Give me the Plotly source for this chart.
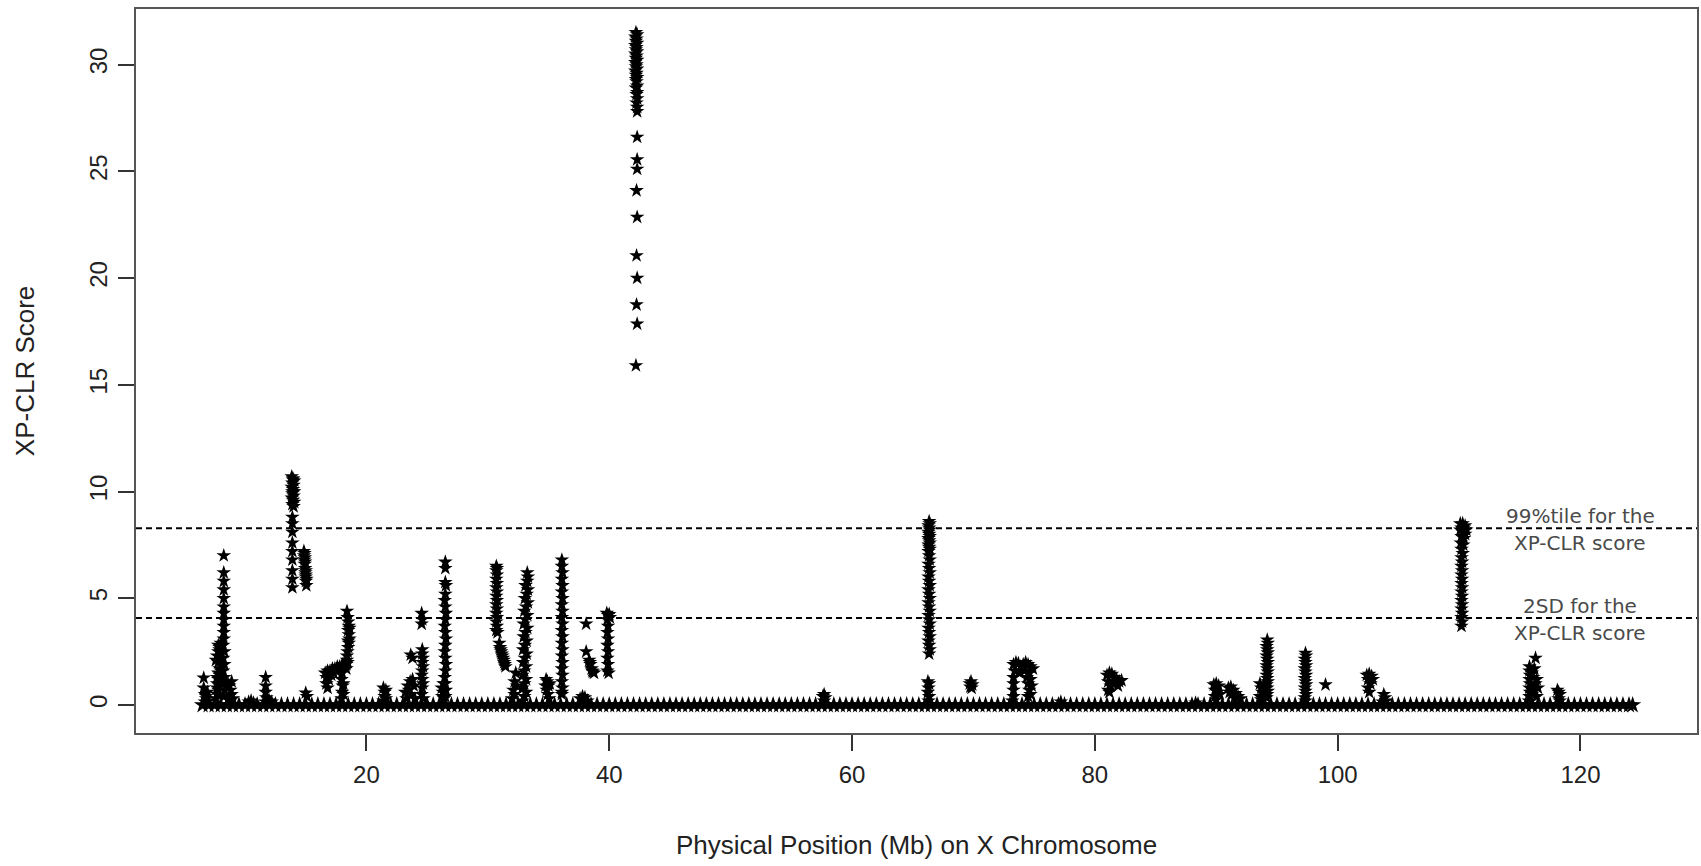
import plotly.graph_objects as go

# ---------------- data ----------------
# windows along the X chromosome (Mb) whose XP-CLR score is ~0
baseline_mb = [
    6.5, 7.0, 7.5, 8.0, 8.5, 9.0, 9.5, 10.0, 10.5, 11.0, 11.5, 12.0, 12.5, 13.0, 13.5, 14.0, 14.5, 15.0, 15.5, 16.0,
    16.5, 17.0, 17.5, 18.0, 18.5, 19.0, 19.5, 20.0, 20.5, 21.0, 21.5, 22.0, 22.5, 23.0, 23.5, 24.0, 24.5, 25.0, 25.5, 26.0,
    26.5, 27.0, 27.5, 28.0, 28.5, 29.0, 29.5, 30.0, 30.5, 31.0, 31.5, 32.0, 32.5, 33.0, 33.5, 34.0, 34.5, 35.0, 35.5, 36.0,
    36.5, 37.0, 37.5, 38.0, 38.5, 39.0, 39.5, 40.0, 40.5, 41.0, 41.5, 42.0, 42.5, 43.0, 43.5, 44.0, 44.5, 45.0, 45.5, 46.0,
    46.5, 47.0, 47.5, 48.0, 48.5, 49.0, 49.5, 50.0, 50.5, 51.0, 51.5, 52.0, 52.5, 53.0, 53.5, 54.0, 54.5, 55.0, 55.5, 56.0,
    56.5, 57.0, 57.5, 58.0, 58.5, 59.0, 59.5, 60.0, 60.5, 61.0, 61.5, 62.0, 62.5, 63.0, 63.5, 64.0, 64.5, 65.0, 65.5, 66.0,
    66.5, 67.0, 67.5, 68.0, 68.5, 69.0, 69.5, 70.0, 70.5, 71.0, 71.5, 72.0, 72.5, 73.0, 73.5, 74.0, 74.5, 75.0, 75.5, 76.0,
    76.5, 77.0, 77.5, 78.0, 78.5, 79.0, 79.5, 80.0, 80.5, 81.0, 81.5, 82.0, 82.5, 83.0, 83.5, 84.0, 84.5, 85.0, 85.5, 86.0,
    86.5, 87.0, 87.5, 88.0, 88.5, 89.0, 89.5, 90.0, 90.5, 91.0, 91.5, 92.0, 92.5, 93.0, 93.5, 94.0, 94.5, 95.0, 95.5, 96.0,
    96.5, 97.0, 97.5, 98.0, 98.5, 99.0, 99.5, 100.0, 100.5, 101.0, 101.5, 102.0, 102.5, 103.0, 103.5, 104.0, 104.5, 105.0,
    105.5, 106.0, 106.5, 107.0, 107.5, 108.0, 108.5, 109.0, 109.5, 110.0, 110.5, 111.0, 111.5, 112.0, 112.5, 113.0, 113.5,
    114.0, 114.5, 115.0, 115.5, 116.0, 116.5, 117.0, 117.5, 118.0, 118.5, 119.0, 119.5, 120.0, 120.5, 121.0, 121.5, 122.0,
    122.5, 123.0, 123.5, 124.0, 124.3,
]

# (position Mb, XP-CLR score) for windows above zero, grouped by region
peaks_06_12 = [
    (6.6, 1.27), (6.6, 0.8), (6.7, 0.5), (6.8, 0.3), (6.9, 0.6), (7.0, 0.2), (6.7, 0.15), (6.8, 0.4),
    (7.6, 0.3), (7.7, 0.5), (7.8, 0.7), (7.9, 0.9), (8.0, 1.1), (7.7, 1.3), (7.8, 1.5), (7.9, 1.7), (8.0, 1.9),
    (7.6, 2.1), (7.7, 2.3), (7.8, 2.5), (7.9, 2.7), (8.0, 2.9), (7.8, 2.8), (7.9, 2.6), (7.7, 1.0), (7.8, 1.2),
    (7.9, 1.4), (8.0, 1.6), (7.7, 0.8), (7.8, 2.0),
    (8.25, 7.0), (8.25, 6.2), (8.25, 5.8), (8.25, 5.4), (8.25, 5.0), (8.25, 4.6), (8.25, 4.3), (8.25, 4.0),
    (8.25, 3.7), (8.25, 3.4), (8.25, 3.1), (8.2, 2.8), (8.3, 2.5), (8.2, 2.2), (8.3, 1.9), (8.2, 1.6),
    (8.3, 1.3), (8.2, 1.0), (8.3, 0.7), (8.25, 0.4),
    (8.6, 1.0), (8.7, 0.9), (8.8, 0.7), (8.9, 0.5), (9.0, 0.3), (8.7, 0.4), (8.8, 0.2), (8.9, 1.1),
    (10.3, 0.15), (10.5, 0.2), (10.7, 0.1),
    (11.7, 1.3), (11.7, 0.9), (11.7, 0.6), (11.75, 0.35), (11.7, 0.15), (12.0, 0.2), (12.2, 0.15),
]

peaks_13_19 = [
    (13.85, 10.7), (13.95, 10.6), (14.05, 10.5), (13.9, 10.4), (14.0, 10.3), (13.85, 10.2), (13.95, 10.1),
    (14.05, 10.0), (13.9, 9.9), (14.0, 9.8), (13.85, 9.7), (13.95, 9.6), (14.05, 9.5), (13.9, 9.4), (14.0, 9.3),
    (13.95, 10.55), (13.9, 10.0),
    (13.9, 8.8), (13.9, 8.5), (13.9, 8.1), (13.9, 7.6), (13.9, 7.2), (13.9, 6.8), (13.9, 6.3), (13.9, 5.9), (13.9, 5.5),
    (14.85, 7.2), (14.87, 7.0), (14.9, 6.8), (14.92, 6.6), (14.95, 6.4), (14.97, 6.2), (15.0, 6.0), (15.02, 5.8),
    (15.05, 5.6), (14.9, 7.1), (14.95, 6.7), (15.0, 6.3), (15.05, 5.9), (14.93, 6.9), (15.0, 6.1),
    (15.0, 0.57), (15.1, 0.4),
    (16.6, 1.5), (16.7, 1.3), (16.8, 1.6), (16.9, 1.2), (16.7, 1.0), (16.8, 0.8), (17.0, 1.6), (17.2, 1.7),
    (17.4, 1.7), (17.6, 1.8), (17.8, 1.8), (18.0, 1.9), (17.1, 1.4), (17.3, 1.5), (17.5, 1.6),
    (17.95, 0.3), (18.0, 0.6), (18.05, 0.9), (17.95, 1.2), (18.0, 1.5), (18.1, 1.0), (18.1, 0.5),
    (18.4, 4.4), (18.45, 4.1), (18.5, 3.9), (18.55, 3.7), (18.5, 3.5), (18.55, 3.3), (18.6, 3.1), (18.55, 2.9),
    (18.5, 2.7), (18.45, 2.5), (18.4, 2.3), (18.4, 2.1), (18.35, 1.9), (18.35, 1.7), (18.6, 3.6), (18.5, 3.0),
    (18.45, 2.0),
]

peaks_21_27 = [
    (21.4, 0.8), (21.5, 0.6), (21.6, 0.7), (21.5, 0.4), (21.6, 0.3), (21.4, 0.2),
    (23.2, 0.6), (23.4, 0.9), (23.6, 1.1), (23.8, 1.2), (23.5, 0.7), (23.7, 0.5), (23.9, 0.9), (24.0, 0.3),
    (23.3, 0.3), (23.65, 2.35), (23.8, 2.2),
    (24.55, 4.3), (24.6, 4.0), (24.55, 3.8), (24.6, 2.6), (24.6, 2.4), (24.65, 2.2), (24.6, 2.0), (24.65, 1.8),
    (24.6, 1.6), (24.55, 1.4), (24.6, 1.2), (24.65, 1.0), (24.6, 0.8), (24.55, 0.5), (24.7, 0.3),
    (26.5, 6.7), (26.5, 6.4), (26.5, 5.75), (26.55, 5.6), (26.5, 5.2), (26.45, 4.9), (26.5, 4.6), (26.55, 4.3),
    (26.5, 4.0), (26.45, 3.7), (26.5, 3.4), (26.55, 3.1), (26.5, 2.8), (26.45, 2.5), (26.5, 2.2), (26.55, 1.9),
    (26.5, 1.6), (26.45, 1.3), (26.5, 1.0), (26.55, 0.7), (26.5, 0.4),
    (26.2, 0.8), (26.3, 0.6), (26.25, 0.4), (26.35, 1.0), (26.4, 0.3),
]

peaks_30_40 = [
    (30.7, 6.5), (30.75, 6.4), (30.7, 6.3), (30.75, 6.1), (30.7, 5.9), (30.75, 5.7), (30.7, 5.5), (30.75, 5.3),
    (30.7, 5.1), (30.75, 4.9), (30.7, 4.7), (30.75, 4.5), (30.7, 4.3), (30.75, 4.1), (30.7, 3.9), (30.75, 3.7),
    (30.7, 3.5), (30.8, 3.4),
    (30.95, 2.9), (31.0, 2.7), (31.1, 2.5), (31.2, 2.3), (31.3, 2.1), (31.4, 1.9), (31.45, 1.8), (31.05, 2.6),
    (31.15, 2.4), (31.25, 2.2), (31.35, 2.0),
    (32.0, 0.3), (32.1, 0.7), (32.2, 1.1), (32.3, 1.5), (32.2, 0.5), (32.4, 0.9),
    (32.85, 0.2), (33.0, 0.4), (33.15, 0.6), (32.85, 0.8), (33.0, 1.0), (33.15, 1.2), (32.85, 1.4), (33.0, 1.6),
    (33.15, 1.8), (32.9, 2.0), (33.05, 2.2), (33.2, 2.4), (32.9, 2.6), (33.05, 2.8), (33.2, 3.0), (32.95, 3.2),
    (33.1, 3.4), (33.25, 3.6), (32.95, 3.8), (33.1, 4.0), (33.25, 4.2), (33.0, 4.4), (33.15, 4.6), (33.3, 4.8),
    (33.05, 5.0), (33.2, 5.2), (33.3, 5.4), (33.1, 5.6), (33.25, 5.8), (33.3, 6.0), (33.25, 6.2),
    (34.8, 1.2), (34.9, 1.1), (35.0, 0.9), (34.85, 0.7), (34.95, 0.5), (35.05, 0.3), (34.75, 0.9), (35.1, 1.0),
    (36.1, 6.8), (36.1, 6.5), (36.15, 6.2), (36.1, 5.9), (36.15, 5.6), (36.1, 5.3), (36.15, 5.0), (36.1, 4.7),
    (36.15, 4.4), (36.1, 4.1), (36.15, 3.8), (36.1, 3.5), (36.15, 3.2), (36.1, 2.9), (36.15, 2.6), (36.1, 2.3),
    (36.15, 2.0), (36.1, 1.7), (36.15, 1.4), (36.1, 1.1), (36.15, 0.8), (36.1, 0.5), (36.1, 0.6),
    (37.6, 0.3), (37.8, 0.4), (38.0, 0.35), (38.2, 0.2), (37.9, 0.15),
    (38.1, 3.8), (38.1, 2.5), (38.35, 2.1), (38.45, 1.9), (38.55, 1.7), (38.65, 1.55), (38.75, 1.5), (38.4, 2.0),
    (38.6, 1.6),
    (39.8, 4.3), (39.9, 4.2), (40.0, 4.25), (40.05, 4.1), (39.85, 4.0), (39.9, 3.7), (39.85, 3.4), (39.9, 3.1),
    (39.85, 2.8), (39.9, 2.5), (39.85, 2.2), (39.9, 1.9), (39.85, 1.6), (39.95, 1.5),
]

peak_42 = [
    (42.2, 31.5), (42.3, 31.4), (42.15, 31.3), (42.25, 31.2), (42.2, 31.1), (42.3, 31.0), (42.15, 30.9),
    (42.25, 30.8), (42.2, 30.7), (42.3, 30.6), (42.15, 30.5), (42.25, 30.4), (42.2, 30.3), (42.3, 30.2),
    (42.15, 30.1), (42.25, 30.0), (42.2, 29.9), (42.3, 29.8), (42.15, 29.7), (42.25, 29.6), (42.2, 29.5),
    (42.3, 29.4), (42.2, 29.3), (42.25, 29.2), (42.3, 29.0), (42.2, 28.9), (42.3, 28.7), (42.25, 28.6),
    (42.3, 28.4), (42.25, 28.2), (42.3, 28.0), (42.3, 27.8),
    (42.3, 26.6), (42.3, 25.55), (42.3, 25.1), (42.25, 24.1), (42.3, 22.85), (42.25, 21.05), (42.3, 20.0),
    (42.25, 18.75), (42.3, 17.85), (42.2, 15.9),
]

peaks_57_83 = [
    (57.6, 0.4), (57.7, 0.5), (57.8, 0.35), (57.7, 0.2),
    (66.35, 8.6), (66.4, 8.5), (66.3, 8.4), (66.35, 8.3), (66.4, 8.2), (66.3, 8.1), (66.35, 8.0), (66.4, 7.9),
    (66.3, 7.8), (66.35, 7.7), (66.4, 7.6), (66.3, 7.5), (66.35, 7.4), (66.4, 7.3), (66.3, 7.2), (66.35, 7.0),
    (66.4, 6.8), (66.3, 6.6), (66.35, 6.4), (66.4, 6.2), (66.3, 6.0), (66.35, 5.8), (66.4, 5.6), (66.3, 5.4),
    (66.35, 5.2), (66.4, 5.0), (66.3, 4.8), (66.35, 4.6), (66.4, 4.4), (66.3, 4.2), (66.35, 4.0), (66.4, 3.8),
    (66.3, 3.6), (66.35, 3.4), (66.4, 3.2), (66.3, 3.0), (66.35, 2.8), (66.4, 2.6), (66.35, 2.4),
    (66.25, 1.1), (66.35, 1.0), (66.3, 0.8), (66.25, 0.6), (66.35, 0.4), (66.3, 0.2),
    (69.7, 1.0), (69.8, 1.1), (69.9, 0.95), (69.75, 0.85), (69.85, 0.8),
    (73.3, 1.9), (73.5, 2.0), (73.7, 1.95), (73.9, 1.8), (74.1, 1.9), (74.3, 2.0), (74.5, 1.9), (74.7, 1.8),
    (74.9, 1.7), (73.4, 1.6), (73.8, 1.5), (74.2, 1.6), (74.6, 1.5),
    (73.3, 1.3), (73.3, 1.0), (73.3, 0.7), (73.3, 0.4), (74.4, 1.3), (74.5, 1.0), (74.6, 0.7), (74.5, 0.4),
    (74.7, 1.2), (74.8, 0.9), (74.7, 0.5), (73.2, 0.2),
    (77.2, 0.15),
    (81.0, 1.4), (81.2, 1.5), (81.4, 1.45), (81.6, 1.3), (81.8, 1.2), (82.0, 1.1), (82.2, 1.15), (81.1, 1.1),
    (81.3, 0.9), (81.1, 0.7), (81.2, 0.6), (81.5, 1.0), (81.9, 0.9),
]

peaks_88_104 = [
    (88.3, 0.1),
    (89.8, 0.95), (90.0, 1.0), (90.2, 0.9), (89.9, 0.7), (90.1, 0.6), (89.9, 0.4), (90.0, 0.25), (90.3, 0.5),
    (91.0, 0.8), (91.2, 0.85), (91.4, 0.7), (91.6, 0.55), (91.8, 0.4), (92.0, 0.3), (91.3, 0.5), (91.5, 0.35),
    (91.1, 0.6),
    (94.2, 3.05), (94.25, 2.9), (94.15, 2.75), (94.2, 2.6), (94.25, 2.45), (94.15, 2.3), (94.2, 2.15),
    (94.25, 2.0), (94.15, 1.85), (94.2, 1.7), (94.25, 1.55), (94.15, 1.4), (94.2, 1.25), (94.25, 1.1),
    (94.15, 0.95), (94.2, 0.8), (94.25, 0.65), (94.2, 0.5), (94.15, 0.35),
    (93.6, 1.0), (93.7, 0.8), (93.8, 0.6), (93.6, 0.4), (93.9, 0.9), (93.7, 0.25),
    (97.35, 2.43), (97.4, 2.3), (97.3, 2.15), (97.35, 2.0), (97.4, 1.85), (97.3, 1.7), (97.35, 1.55),
    (97.4, 1.4), (97.3, 1.25), (97.35, 1.1), (97.4, 0.95), (97.3, 0.8), (97.35, 0.65), (97.4, 0.5),
    (97.3, 0.35), (97.35, 0.2),
    (99.0, 0.95),
    (102.4, 1.4), (102.6, 1.45), (102.8, 1.35), (102.5, 1.2), (102.7, 1.0), (102.5, 0.8), (102.6, 0.6),
    (102.9, 1.2),
    (103.8, 0.5), (103.9, 0.35), (104.0, 0.2), (103.7, 0.15),
]

peaks_110_119 = [
    (110.1, 8.5), (110.3, 8.5), (110.5, 8.4), (110.2, 8.3), (110.4, 8.3), (110.6, 8.2), (110.1, 8.2),
    (110.3, 8.1), (110.5, 8.0), (110.2, 7.9), (110.4, 7.8), (110.15, 7.6), (110.35, 7.5), (110.2, 7.3),
    (110.3, 7.1), (110.2, 6.9), (110.25, 6.7), (110.2, 6.5), (110.25, 6.3), (110.2, 6.1), (110.25, 5.9),
    (110.2, 5.7), (110.25, 5.5), (110.2, 5.3), (110.25, 5.1), (110.2, 4.9), (110.25, 4.7), (110.2, 4.5),
    (110.25, 4.3), (110.2, 4.1), (110.25, 3.9), (110.2, 3.7),
    (115.8, 1.8), (115.8, 1.6), (115.85, 1.4), (115.8, 1.2), (115.85, 1.0), (115.8, 0.8), (115.85, 0.6),
    (115.8, 0.4), (115.75, 0.2), (116.3, 2.2),
    (116.0, 1.5), (116.2, 1.7), (116.1, 1.3), (116.3, 1.0), (116.2, 0.7), (116.4, 1.2), (116.5, 0.8),
    (116.0, 0.5), (116.4, 0.4),
    (118.1, 0.7), (118.2, 0.6), (118.3, 0.5), (118.2, 0.3), (118.3, 0.2),
]

threshold_99 = 8.28   # 99th percentile of XP-CLR score
threshold_2sd = 4.08  # 2 SD of XP-CLR score

x_ticks = [20, 40, 60, 80, 100, 120]
y_ticks = [0, 5, 10, 15, 20, 25, 30]

# ---------------- figure ----------------
all_peaks = peaks_06_12 + peaks_13_19 + peaks_21_27 + peaks_30_40 + peak_42 + peaks_57_83 + peaks_88_104 + peaks_110_119
px = [p[0] for p in all_peaks]
py = [p[1] for p in all_peaks]

fig = go.Figure()
fig.add_trace(go.Scatter(x=baseline_mb, y=[0.0] * len(baseline_mb), mode="markers",
                         marker=dict(symbol="star", size=13, color="black", line=dict(width=0)),
                         showlegend=False, hoverinfo="x+y"))
fig.add_trace(go.Scatter(x=px, y=py, mode="markers",
                         marker=dict(symbol="star", size=11, color="black", line=dict(width=0)),
                         showlegend=False, hoverinfo="x+y"))

for t in (threshold_99, threshold_2sd):
    fig.add_shape(type="line", xref="paper", x0=0, x1=1, yref="y", y0=t, y1=t,
                  line=dict(color="black", width=2, dash="6px,4px"), layer="below")

note_font = dict(family="DejaVu Sans", size=20, color="#4a4a4a")
fig.add_annotation(x=120, y=threshold_99, text="99%tile for the", showarrow=False, font=note_font, yanchor="bottom", yshift=-2)
fig.add_annotation(x=120, y=threshold_99, text="XP-CLR score", showarrow=False, font=note_font, yanchor="top", yshift=-1)
fig.add_annotation(x=120, y=threshold_2sd, text="2SD for the", showarrow=False, font=note_font, yanchor="bottom", yshift=-2)
fig.add_annotation(x=120, y=threshold_2sd, text="XP-CLR score", showarrow=False, font=note_font, yanchor="top", yshift=-1)

title_font = dict(family="Liberation Sans, Arial, sans-serif", size=26, color="#222222")
fig.add_annotation(xref="paper", yref="paper", x=0.5, y=-0.155, text="Physical Position (Mb) on X Chromosome",
                   showarrow=False, font=title_font, xanchor="center", yanchor="middle")
fig.add_annotation(xref="paper", yref="paper", x=-0.071, y=0.5, text="XP-CLR Score", textangle=-90,
                   showarrow=False, font=title_font, xanchor="center", yanchor="middle")

tick_font = dict(family="Liberation Sans, Arial, sans-serif", size=24, color="#222222")
fig.update_xaxes(range=[1.02, 129.6], tickvals=x_ticks, ticks="outside", ticklen=16, tickwidth=1.5,
                 tickcolor="#333333", showline=True, mirror=True, linecolor="#555555", linewidth=2,
                 showgrid=False, zeroline=False, tickfont=tick_font, ticklabelstandoff=3)
fig.update_yaxes(range=[-1.31, 32.6], tickvals=y_ticks, ticks="outside", ticklen=16, tickwidth=1.5,
                 tickcolor="#333333", showline=True, mirror=True, linecolor="#555555", linewidth=2,
                 showgrid=False, zeroline=False, tickfont=tick_font, tickangle=-90, ticklabelstandoff=1)

fig.update_layout(width=1701, height=866, margin=dict(l=136, r=2, t=9, b=133),
                  plot_bgcolor="white", paper_bgcolor="white", showlegend=False)

fig.write_html("out.html", config={"displayModeBar": False},
               post_script="document.body.style.margin='0';")
